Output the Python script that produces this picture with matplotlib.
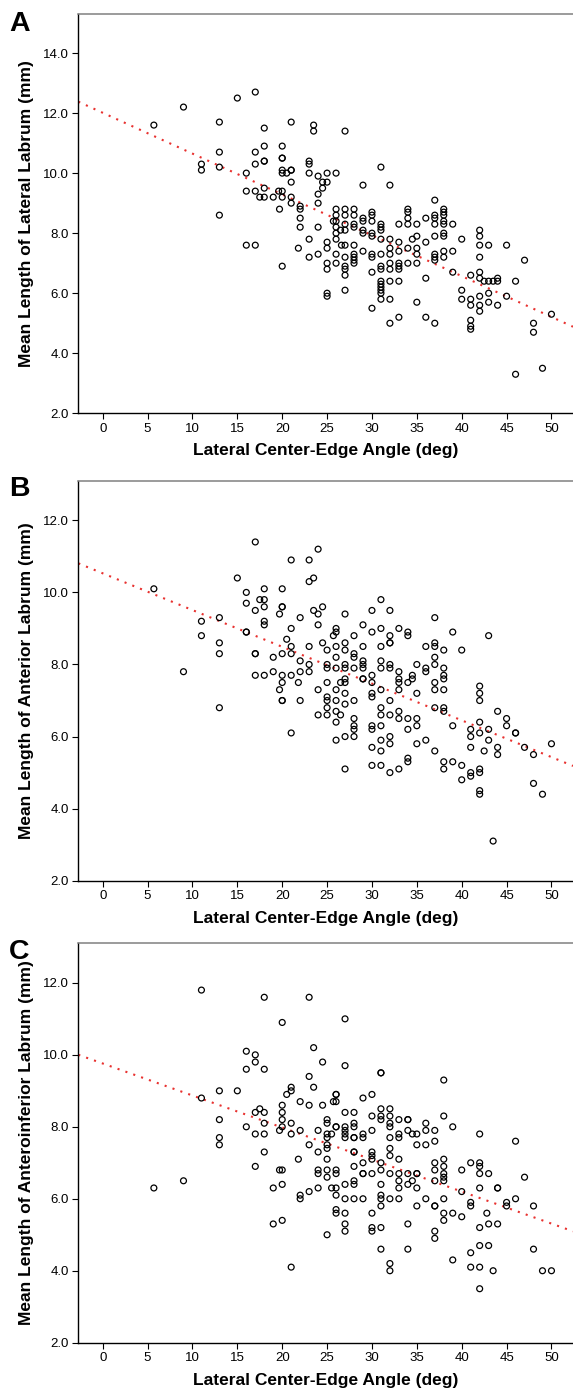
import matplotlib
matplotlib.use('Agg')
import matplotlib.pyplot as plt
import numpy as np

plt.rcParams['font.family'] = ['Liberation Sans', 'DejaVu Sans']

# ---- Panel A: lateral labrum ----
lce_a = [
    5.7, 9, 11, 11, 13, 13, 13, 13, 15, 17,
    18, 18, 17, 17, 18, 18, 16, 16, 17, 17.5,
    18, 18, 19, 20, 20, 20, 20, 20, 20.5, 21,
    21, 21, 21, 19.6, 20, 20, 19.7, 21, 21, 22,
    22, 22, 23, 23, 23, 23.5, 23.5, 24, 24, 24,
    27, 25, 26, 24.5, 25, 29, 32, 31, 24.5, 37,
    16, 17, 22, 23, 21.8, 23, 20, 24, 24,
    25, 25, 25, 25, 25, 25, 26, 26, 26, 26, 26, 26, 26, 26, 25.7, 26.5, 26.6,
    27, 27, 27, 27, 27, 27, 27, 27, 27, 27,
    28, 28, 28, 28, 28, 28, 28, 28, 28,
    29, 29, 29, 29, 29,
    30, 30, 30, 30, 30, 30, 30, 30, 30,
    31, 31, 31, 31, 31, 31, 31, 31, 31, 31, 31, 31, 31,
    32, 32, 32, 32, 32, 32, 32, 32,
    33, 33, 33, 33, 33, 33, 33, 33,
    34, 34, 34, 34, 34, 34, 34.5,
    35, 35, 35, 35, 35, 35,
    36, 36, 36, 36,
    37, 37, 37, 37, 37, 37, 37, 37,
    38, 38, 38, 38, 38, 38, 38, 38, 38,
    39, 39, 39, 40, 40, 40,
    41, 41, 41, 41, 41, 41,
    42, 42, 42, 42, 42, 42, 42, 42, 42,
    43, 43, 43, 43, 42.5, 44, 44, 44, 43.5,
    45, 45, 46, 46, 47, 48, 48, 49, 50,
]
len_a = [
    11.6, 12.2, 10.3, 10.1, 11.7, 10.7, 10.2, 8.6, 12.5, 12.7,
    11.5, 10.9, 10.7, 10.3, 10.4, 10.4, 10.0, 9.4, 9.4, 9.2,
    9.2, 9.5, 9.2, 10.9, 10.5, 10.5, 10.1, 10.0, 10.0, 10.1,
    10.1, 9.7, 11.7, 9.4, 9.4, 9.2, 8.8, 9.2, 9.0, 8.9,
    8.8, 8.5, 10.4, 10.3, 10.0, 11.6, 11.4, 9.9, 9.3, 9.0,
    11.4, 10.0, 10.0, 9.7, 9.7, 9.6, 9.6, 10.2, 9.5, 9.1,
    7.6, 7.6, 8.2, 7.8, 7.5, 7.2, 6.9, 8.2, 7.3,
    7.7, 7.5, 7.0, 6.8, 6.0, 5.9, 8.8, 8.6, 8.4, 8.2, 8.0, 7.8, 7.3, 7.0, 8.4, 8.1, 7.6,
    8.8, 8.6, 8.3, 8.1, 7.6, 7.2, 6.9, 6.8, 6.6, 6.1,
    8.8, 8.6, 8.3, 8.2, 7.6, 7.3, 7.2, 7.1, 7.0,
    8.5, 8.4, 8.1, 8.0, 7.4,
    8.7, 8.6, 8.4, 8.0, 7.9, 7.3, 7.2, 6.7, 5.5,
    8.3, 8.2, 8.1, 7.8, 7.3, 6.9, 6.8, 6.4, 6.3, 6.2, 6.1, 6.0, 5.8,
    7.8, 7.5, 7.3, 7.0, 6.8, 6.4, 5.8, 5.0,
    8.3, 7.7, 7.4, 7.0, 6.9, 6.8, 6.4, 5.2,
    8.8, 8.7, 8.5, 8.3, 7.5, 7.0, 7.8,
    8.3, 7.9, 7.5, 7.3, 7.0, 5.7,
    8.5, 7.7, 6.5, 5.2,
    8.6, 8.5, 8.3, 7.9, 7.3, 7.2, 7.1, 5.0,
    8.8, 8.7, 8.6, 8.4, 8.3, 8.0, 7.9, 7.4, 7.2,
    8.3, 7.4, 6.7, 7.8, 6.1, 5.8,
    6.6, 5.8, 5.6, 5.1, 4.9, 4.8,
    8.1, 7.9, 7.6, 7.2, 6.7, 6.5, 5.9, 5.6, 5.4,
    7.6, 6.4, 6.0, 5.7, 6.4, 6.5, 6.4, 5.6, 6.4,
    7.6, 5.9, 6.4, 3.3, 7.1, 5.0, 4.7, 3.5, 5.3,
]

# ---- Panel B: anterior labrum ----
lce_b = [
    17, 21, 23, 23, 15, 5.7, 16, 18, 20, 17.5,
    18, 16, 18, 17, 20, 20, 19.7, 22, 13, 11,
    18, 18, 21, 16, 16, 11, 20.5, 13, 21, 23,
    13, 17, 17, 20, 21, 19, 22, 23, 9, 19,
    22, 23, 17, 18, 20, 21, 20, 21.8, 19.7, 20,
    20, 22, 13, 21,
    24, 23.5, 31, 23.5, 24, 24.5, 27, 30, 32, 37,
    24, 26, 26, 25.7, 29, 31, 33, 30, 28, 32,
    34, 34, 39, 43, 24.5, 26, 27, 27, 25, 29,
    31, 32, 32, 36, 37, 37, 38, 40, 26, 28,
    28, 37,
    25, 25, 26, 27, 27, 28, 29, 29, 29, 31,
    31, 32, 32, 35, 36, 36, 37, 38,
    24, 24, 25, 25, 25, 25, 25, 26, 26, 26, 26, 26, 26.5, 26.5,
    27, 27, 27, 27, 27, 27, 28, 28, 28, 28, 28, 29, 29,
    30, 30, 30, 30, 30, 30, 30, 30,
    31, 31, 31, 31, 31, 31, 31,
    32, 32, 32, 32, 32,
    33, 33, 33, 33, 33, 33, 33,
    34, 34, 34, 34, 34, 34.5, 34.5,
    35, 35, 35, 35, 36,
    37, 37, 37, 37,
    38, 38, 38, 38, 38, 38, 38,
    39, 39, 40, 40, 41, 41, 41, 41, 41,
    42, 42, 42, 42, 42, 42, 42, 42, 42, 42.5,
    43, 43, 43.5, 44, 44, 44, 45, 45, 46, 46, 47, 48, 48, 49, 50,
]
len_b = [
    11.4, 10.9, 10.9, 10.3, 10.4, 10.1, 10.0, 10.1, 10.1, 9.8,
    9.8, 9.7, 9.6, 9.5, 9.6, 9.6, 9.4, 9.3, 9.3, 9.2,
    9.2, 9.1, 9.0, 8.9, 8.9, 8.8, 8.7, 8.6, 8.5, 8.5,
    8.3, 8.3, 8.3, 8.3, 8.3, 8.2, 8.1, 8.0, 7.8, 7.8,
    7.8, 7.8, 7.7, 7.7, 7.7, 7.7, 7.5, 7.5, 7.3, 7.0,
    7.0, 7.0, 6.8, 6.1,
    11.2, 10.4, 9.8, 9.5, 9.4, 9.6, 9.4, 9.5, 9.5, 9.3,
    9.1, 9.0, 8.9, 8.8, 9.1, 9.0, 9.0, 8.9, 8.8, 8.8,
    8.9, 8.8, 8.9, 8.8, 8.6, 8.5, 8.6, 8.4, 8.4, 8.5,
    8.5, 8.6, 8.6, 8.5, 8.6, 8.5, 8.4, 8.4, 8.2, 8.3,
    8.2, 8.2,
    8.0, 7.9, 7.9, 8.0, 7.9, 7.9, 8.1, 8.0, 7.9, 8.1,
    7.9, 8.0, 7.9, 8.0, 7.9, 7.8, 8.0, 7.9,
    7.3, 6.6, 7.5, 7.1, 7.0, 6.8, 6.6, 7.3, 7.0, 6.7, 6.4, 5.9, 7.5, 6.6,
    7.5, 7.6, 7.2, 6.9, 6.0, 5.1, 7.0, 6.5, 6.3, 6.2, 6.0, 7.6, 7.6,
    7.7, 7.5, 7.2, 7.1, 6.3, 6.2, 5.7, 5.2,
    7.3, 6.8, 6.6, 6.3, 5.9, 5.6, 5.2,
    7.0, 6.6, 6.0, 5.8, 5.0,
    7.8, 7.6, 7.5, 7.3, 6.7, 6.5, 5.1,
    7.5, 6.5, 6.2, 5.4, 5.3, 7.7, 7.6,
    7.2, 6.5, 6.3, 5.8, 5.9,
    7.5, 7.3, 6.8, 5.6,
    7.7, 7.6, 7.3, 6.8, 6.7, 5.3, 5.1,
    6.3, 5.3, 5.2, 4.8, 6.2, 6.0, 5.7, 5.0, 4.9,
    7.4, 7.2, 7.0, 6.4, 6.1, 5.1, 5.0, 4.5, 4.4, 5.6,
    6.2, 5.9, 3.1, 6.7, 5.7, 5.5, 6.5, 6.3, 6.1, 6.1, 5.7, 5.5, 4.7, 4.4, 5.8,
]

# ---- Panel C: anteroinferior labrum ----
lce_c = [
    11, 18, 23, 20, 16, 17, 17, 16, 18, 23,
    13, 15, 21, 21, 20.5, 11, 22, 20, 23, 17.5,
    17, 18, 20, 13, 20, 18, 21, 16, 20, 19.7,
    22, 17, 18, 21, 13, 13, 23, 18, 21.8, 17,
    19.7, 20, 9, 5.7, 19, 20, 23, 22, 22, 19,
    20, 21,
    27, 23.5, 24.5, 27, 31, 31, 38, 23.5, 26, 26,
    30, 25.7, 26, 29, 24.5, 27, 28, 31, 32, 30,
    31, 31, 32, 33, 34, 34, 38, 25, 25, 26,
    26, 27, 27, 28, 28, 32, 32, 36, 39, 24,
    30, 34, 36, 37, 25, 25, 25.5, 27, 27, 28,
    28, 29, 29, 32, 33, 33, 34.5, 35, 42, 46,
    37, 25, 32, 35, 36,
    25, 24, 28, 28, 30, 30, 30, 32, 25, 29,
    31, 33, 38, 38, 37, 41, 42, 42, 28, 24,
    24, 25, 25, 26, 26, 29, 29, 30, 31, 32,
    33, 33, 34, 35, 35, 37, 38, 38, 38, 40,
    42, 43, 47, 24, 26, 25.5, 27, 28, 28, 31,
    33, 34, 34.5, 35, 37, 42, 44, 44, 26, 27,
    28, 29, 31, 31, 31, 32, 33, 36, 38, 40,
    41, 41, 45, 45, 46, 48, 35, 37, 37, 26,
    26, 27, 30, 38, 38, 39, 40, 42.8, 27, 27,
    30, 30, 31, 34, 42, 43, 44, 25, 37, 37,
    31, 34, 42, 43, 48, 41, 39, 32, 32, 41,
    42, 43.5, 49, 50, 42,
]
len_c = [
    11.8, 11.6, 11.6, 10.9, 10.1, 10.0, 9.8, 9.6, 9.6, 9.4,
    9.0, 9.0, 9.1, 9.0, 8.9, 8.8, 8.7, 8.6, 8.6, 8.5,
    8.4, 8.4, 8.4, 8.2, 8.2, 8.1, 8.1, 8.0, 8.0, 7.9,
    7.9, 7.8, 7.8, 7.8, 7.7, 7.5, 7.5, 7.3, 7.1, 6.9,
    6.8, 6.8, 6.5, 6.3, 6.3, 6.4, 6.2, 6.1, 6.0, 5.3,
    5.4, 4.1,
    11.0, 10.2, 9.8, 9.7, 9.5, 9.5, 9.3, 9.1, 8.9, 8.9,
    8.9, 8.7, 8.7, 8.8, 8.6, 8.4, 8.4, 8.5, 8.5, 8.3,
    8.3, 8.2, 8.3, 8.2, 8.2, 8.2, 8.3, 8.2, 8.1, 8.0,
    8.0, 8.0, 7.9, 8.1, 8.0, 8.1, 8.0, 8.1, 8.0, 7.9,
    7.9, 7.9, 7.9, 7.9, 7.8, 7.7, 7.8, 7.8, 7.7, 7.7,
    7.7, 7.8, 7.7, 7.7, 7.8, 7.7, 7.8, 7.8, 7.8, 7.6,
    7.6, 7.5, 7.4, 7.5, 7.5,
    7.4, 7.3, 7.3, 7.3, 7.3, 7.2, 7.1, 7.2, 7.1, 7.0,
    7.0, 7.1, 7.1, 6.9, 7.0, 7.0, 7.0, 6.9, 6.9, 6.8,
    6.7, 6.8, 6.6, 6.8, 6.7, 6.7, 6.7, 6.7, 6.8, 6.7,
    6.7, 6.5, 6.7, 6.7, 6.7, 6.8, 6.7, 6.6, 6.5, 6.8,
    6.7, 6.7, 6.6, 6.3, 6.3, 6.3, 6.4, 6.5, 6.4, 6.4,
    6.3, 6.4, 6.5, 6.3, 6.5, 6.3, 6.3, 6.3, 6.1, 6.0,
    6.0, 6.0, 6.1, 6.0, 5.8, 6.0, 6.0, 6.0, 6.0, 6.2,
    5.9, 5.8, 5.9, 5.8, 6.0, 5.8, 5.8, 5.8, 5.8, 5.7,
    5.6, 5.6, 5.6, 5.6, 5.4, 5.6, 5.5, 5.6, 5.3, 5.1,
    5.2, 5.1, 5.2, 5.3, 5.2, 5.3, 5.3, 5.0, 5.1, 4.9,
    4.6, 4.6, 4.7, 4.7, 4.6, 4.5, 4.3, 4.2, 4.0, 4.1,
    4.1, 4.0, 4.0, 4.0, 3.5,
]

# fit lines (intercept, slope)
fit_a = (12.01, -0.136)
fit_b = (10.53, -0.102)
fit_c = (9.76, -0.089)

ylabels = ['Mean Length of Lateral Labrum (mm)',
           'Mean Length of Anterior Labrum (mm)',
           'Mean Length of Anteroinferior Labrum (mm)']
letters = ['A', 'B', 'C']
xlabel = 'Lateral Center-Edge Angle (deg)'

W, H = 573, 1390
fig = plt.figure(figsize=(W / 100, H / 100), dpi=100)

# axes boxes in pixels: (top, bottom)
boxes = [(14, 413.3), (480.7, 880.7), (943.3, 1342.7)]
ax_left, ax_right = 78.3, 573
ylims = [(2, 15.3), (2, 13.1), (2, 13.1)]
yticks = [np.arange(2, 15, 2), np.arange(2, 13, 2), np.arange(2, 13, 2)]
letter_base = [30.7, 496, 959]

panels = [(lce_a, len_a, fit_a), (lce_b, len_b, fit_b), (lce_c, len_c, fit_c)]

for i, (xs, ys, fit) in enumerate(panels):
    top, bot = boxes[i]
    ax = fig.add_axes([ax_left / W, 1 - bot / H,
                       (ax_right - ax_left) / W, (bot - top) / H])
    ax.scatter(xs, ys, s=18, facecolors='none', edgecolors='black',
               linewidths=0.9, zorder=3)
    xlim = (-2.72, 52.4)
    xx = np.array(xlim)
    ax.plot(xx, fit[0] + fit[1] * xx, color='#e8312f', lw=1.5,
            linestyle=(0, (1, 3)), dash_capstyle='butt', zorder=2)
    ax.set_xlim(xlim)
    ax.set_ylim(ylims[i])
    ax.set_xticks(np.arange(0, 51, 5))
    ax.set_yticks(yticks[i])
    ax.set_yticklabels(['%.1f' % v for v in yticks[i]])
    ax.tick_params(direction='out', length=4.5, width=0.8, labelsize=9.5,
                   pad=2.5, colors='black')
    ax.spines['right'].set_visible(False)
    ax.spines['top'].set_color('#808080')
    ax.spines['top'].set_linewidth(1.1)
    ax.spines['left'].set_linewidth(1.0)
    ax.spines['bottom'].set_linewidth(1.0)
    ax.set_xlabel(xlabel, fontsize=12.5, fontweight='bold', labelpad=6)
    ax.set_ylabel(ylabels[i], fontsize=12.5, fontweight='bold')
    ax.yaxis.label.set_verticalalignment('center')
    ax.yaxis.set_label_coords((27 - ax_left) / (ax_right - ax_left), 0.5)
    fig.text(9 / W, 1 - letter_base[i] / H, letters[i], fontsize=20.5,
             fontweight='bold', va='baseline', ha='left')

fig.savefig('out.png', dpi=100)
